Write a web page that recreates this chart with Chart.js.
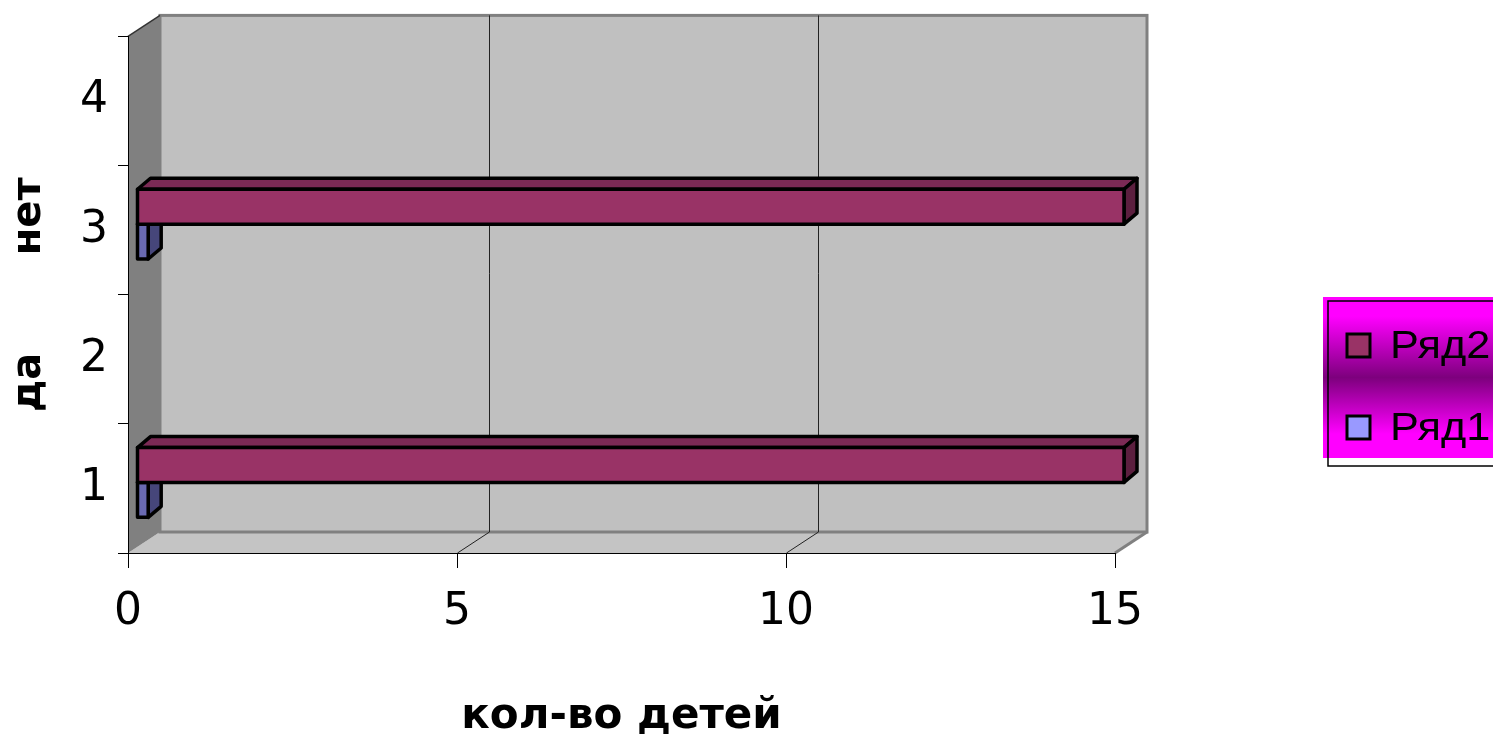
<!DOCTYPE html>
<html>
<head>
<meta charset="utf-8">
<script src="https://cdn.jsdelivr.net/npm/chart.js@4.4.0/dist/chart.umd.min.js"></script>
<style>
  html, body { margin: 0; padding: 0; background: #fff; overflow: hidden; }
</style>
</head>
<body>
<canvas id="grafico" width="1493" height="738"></canvas>
<script>
const categorias = ["1", "2", "3", "4"];
const nomesSeries = ["Ряд2", "Ряд1"];
const valoresRyad2 = [15, null, 15, null];
const valoresRyad1 = [0.17, null, 0.17, null];
const ticksX = [0, 5, 10, 15];
const tituloX = "кол-во детей";
const tituloY = "да       нет";

// cores: frente, topo, lado da barra e quadrado da legenda
const coresFrente = ["#993366", "#6a6ab2"];
const coresTopo = ["#7b2a55", "#55558f"];
const coresLado = ["#5c1f3f", "#46467a"];
const coresLegenda = ["#993366", "#9999ff"];

const PROF = { dx: 32, dy: -21 };   // profundidade da caixa
const DESL = { dx: 9, dy: -6 };     // onde fica a frente das barras
const BARRA = { dx: 13, dy: -11 };  // espessura das barras

function poligono(ctx, pts, fill, stroke, lw) {
    ctx.beginPath();
    ctx.moveTo(pts[0][0], pts[0][1]);
    for (let i = 1; i < pts.length; i++) ctx.lineTo(pts[i][0], pts[i][1]);
    ctx.closePath();
    if (fill) { ctx.fillStyle = fill; ctx.fill(); }
    if (stroke) { ctx.strokeStyle = stroke; ctx.lineWidth = lw || 1; ctx.stroke(); }
}

const caixa3d = {
    id: "caixa3d",
    beforeDraw(chart) {
        const ctx = chart.ctx;
        const a = chart.chartArea;
        const sx = chart.scales.x;
        ctx.save();
        ctx.fillStyle = "#fff";
        ctx.fillRect(0, 0, chart.width, chart.height);

        // chao
        poligono(ctx, [[a.left, a.bottom], [a.left + PROF.dx, a.bottom + PROF.dy],
            [a.right + PROF.dx, a.bottom + PROF.dy], [a.right, a.bottom]], "#c4c4c4");
        // parede do fundo
        ctx.fillStyle = "#c0c0c0";
        ctx.fillRect(a.left + PROF.dx, a.top + PROF.dy, a.right - a.left, a.bottom - a.top);
        ctx.strokeStyle = "#808080";
        ctx.lineWidth = 3;
        ctx.strokeRect(a.left + PROF.dx, a.top + PROF.dy, a.right - a.left, a.bottom - a.top);
        // parede esquerda
        poligono(ctx, [[a.left, a.top], [a.left + PROF.dx, a.top + PROF.dy],
            [a.left + PROF.dx, a.bottom + PROF.dy], [a.left, a.bottom]], "#808080");
        ctx.beginPath();
        ctx.moveTo(a.left, a.top);
        ctx.lineTo(a.left + PROF.dx, a.top + PROF.dy);
        ctx.strokeStyle = "#333";
        ctx.lineWidth = 1.5;
        ctx.stroke();
        // borda direita do chao
        ctx.beginPath();
        ctx.moveTo(a.right, a.bottom);
        ctx.lineTo(a.right + PROF.dx, a.bottom + PROF.dy);
        ctx.strokeStyle = "#808080";
        ctx.lineWidth = 3;
        ctx.stroke();

        // linhas de grade
        ctx.strokeStyle = "#222";
        ctx.lineWidth = 1;
        ticksX.forEach(v => {
            if (v <= sx.min || v >= sx.max) return;
            const px = Math.round(sx.getPixelForValue(v)) + 0.5;
            ctx.beginPath();
            ctx.moveTo(px + PROF.dx, a.top + PROF.dy);
            ctx.lineTo(px + PROF.dx, a.bottom + PROF.dy);
            ctx.moveTo(px, a.bottom);
            ctx.lineTo(px + PROF.dx, a.bottom + PROF.dy);
            ctx.stroke();
        });
        ctx.restore();
    },
    beforeDatasetDraw() {
        return false;
    },
    afterDatasetsDraw(chart) {
        const ctx = chart.ctx;
        const barras = [];
        chart.data.datasets.forEach((ds, i) => {
            chart.getDatasetMeta(i).data.forEach((el, j) => {
                if (ds.data[j] == null) return;
                barras.push({ p: el.getProps(["x", "y", "base", "height"], true), i: i });
            });
        });
        barras.sort((a, b) => b.p.y - a.p.y);

        ctx.save();
        ctx.lineJoin = "round";
        barras.forEach(b => {
            const x0 = b.p.base + DESL.dx;
            const x1 = b.p.x + DESL.dx;
            const y0 = b.p.y - b.p.height / 2 + DESL.dy;
            const y1 = b.p.y + b.p.height / 2 + DESL.dy;
            poligono(ctx, [[x0, y0], [x0 + BARRA.dx, y0 + BARRA.dy], [x1 + BARRA.dx, y0 + BARRA.dy], [x1, y0]],
                coresTopo[b.i], "#000", 3.5);
            poligono(ctx, [[x1, y0], [x1 + BARRA.dx, y0 + BARRA.dy], [x1 + BARRA.dx, y1 + BARRA.dy], [x1, y1]],
                coresLado[b.i], "#000", 3.5);
            poligono(ctx, [[x0, y0], [x1, y0], [x1, y1], [x0, y1]], coresFrente[b.i], "#000", 3.5);
        });
        ctx.restore();
    },
    afterDraw(chart) {
        // legenda
        const ctx = chart.ctx;
        ctx.save();
        const lx = 1323, ly = 297, lh = 161;
        const grad = ctx.createLinearGradient(0, ly, 0, ly + lh);
        grad.addColorStop(0, "#ff00ff");
        grad.addColorStop(0.12, "#ff00ff");
        grad.addColorStop(0.5, "#7d007d");
        grad.addColorStop(0.85, "#ff00ff");
        grad.addColorStop(1, "#ff00ff");
        ctx.fillStyle = grad;
        ctx.fillRect(lx, ly, chart.width - lx, lh);
        ctx.strokeStyle = "#000";
        ctx.lineWidth = 1.5;
        ctx.strokeRect(1328, 301, 200, 165);

        ctx.textBaseline = "middle";
        ctx.textAlign = "left";
        chart.data.datasets.forEach((ds, i) => {
            const cy = 346 + i * 82;
            ctx.fillStyle = coresLegenda[i];
            ctx.fillRect(1347, cy - 12, 23, 23);
            ctx.lineWidth = 3;
            ctx.strokeStyle = "#000";
            ctx.strokeRect(1347, cy - 12, 23, 23);
            ctx.save();
            ctx.translate(1390, cy + 2);
            ctx.scale(1.14, 1);
            ctx.font = "38px 'Liberation Sans'";
            ctx.fillStyle = "#000";
            ctx.fillText(ds.label, 0, 0);
            ctx.restore();
        });
        ctx.restore();
    }
};

const data = {
    labels: categorias,
    datasets: [
        { label: nomesSeries[0], data: valoresRyad2, backgroundColor: coresFrente[0] },
        { label: nomesSeries[1], data: valoresRyad1, backgroundColor: coresFrente[1] },
    ],
};

const config = {
    type: "bar",
    data: data,
    plugins: [caixa3d],
    options: {
        indexAxis: "y",
        responsive: false,
        animation: false,
        events: [],
        categoryPercentage: 0.54,
        barPercentage: 1,
        layout: { padding: { left: 0, top: 36, right: 378, bottom: 0 } },
        plugins: {
            legend: { display: false },
            tooltip: { enabled: false },
        },
        scales: {
            x: {
                type: "linear",
                min: 0,
                max: 15,
                afterBuildTicks(s) { s.ticks = ticksX.map(v => ({ value: v })); },
                grid: { drawOnChartArea: false, tickLength: 15, color: "#000" },
                border: { color: "#000" },
                ticks: {
                    font: { family: "DejaVu Sans", size: 44 }, color: "#000",
                    padding: 18, maxRotation: 0, autoSkip: false,
                },
                title: {
                    display: true, text: tituloX, color: "#000", padding: 0,
                    font: { family: "DejaVu Sans", size: 42, weight: "bold", lineHeight: 1 },
                },
                afterFit(s) { s.height = 185; },
            },
            y: {
                reverse: true,
                grid: { drawOnChartArea: false, tickLength: 10, color: "#000", offset: true },
                border: { color: "#000" },
                ticks: { font: { family: "DejaVu Sans", size: 44 }, color: "#000", padding: 10 },
                title: {
                    display: true, text: tituloY, color: "#000", padding: 10,
                    font: { family: "DejaVu Sans", size: 40, weight: "bold", lineHeight: 1 },
                },
                afterFit(s) { s.width = 128; },
            },
        },
    },
};

const grafico = new Chart(document.getElementById("grafico"), config);
</script>
</body>
</html>
